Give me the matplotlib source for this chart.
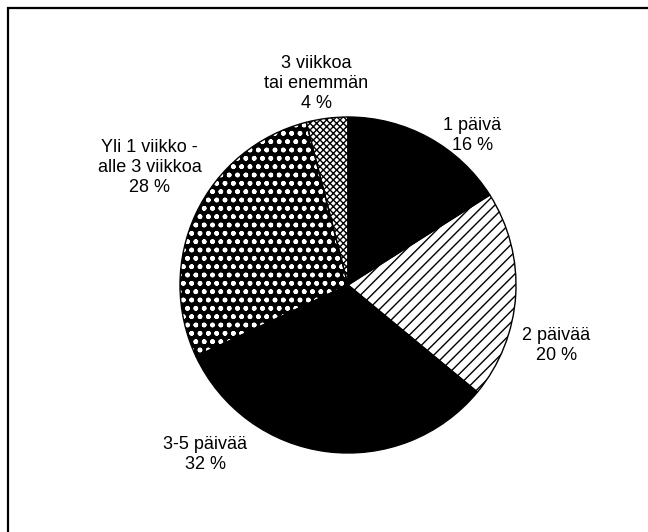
import matplotlib
matplotlib.use("Agg")
import matplotlib.pyplot as plt
from matplotlib.patches import Rectangle

plt.rcParams['font.family'] = ['Liberation Sans', 'DejaVu Sans']
plt.rcParams['hatch.linewidth'] = 1.0

# share of cases by duration
labels = ['1 päivä', '2 päivää', '3-5 päivää',
          'Yli 1 viikko -\nalle 3 viikkoa', '3 viikkoa\ntai enemmän']
values = [16, 20, 32, 28, 4]
# label positions in pie units (radius = 1)
label_pos = [(0.74, 0.89), (1.24, -0.36), (-0.85, -1.01),
             (-1.18, 0.70), (-0.19, 1.20)]

faces = ['black', 'white', 'black', 'black', 'white']
hatch_colors = ['black', 'black', 'black', 'white', 'black']
hatches = [None, '///', None, 'oo..', 'xxxxx']

fig = plt.figure(figsize=(6.48, 5.32), dpi=100)
r_px = 168
cx, cy = 348, 285
half = 1.5 * r_px
ax = fig.add_axes([(cx - half) / 648, (532 - cy - half) / 532,
                   2 * half / 648, 2 * half / 532])

wedges, _ = ax.pie(values, startangle=90, counterclock=False, radius=1)
for w, fc, hc, h in zip(wedges, faces, hatch_colors, hatches):
    w.set_facecolor(fc)
    w.set_edgecolor(hc)
    w.set_linewidth(0)
    if h:
        w.set_hatch(h)

# black outlines on top
outl, _ = ax.pie(values, startangle=90, counterclock=False, radius=1,
                 wedgeprops=dict(fill=False, edgecolor='black', linewidth=1.0))

for lab, v, (x, y) in zip(labels, values, label_pos):
    ax.text(x, y, f'{lab}\n{v} %', ha='center', va='center',
            fontsize=13, linespacing=1.2, color='black')

ax.set_xlim(-1.5, 1.5)
ax.set_ylim(-1.5, 1.5)
ax.set_aspect('equal')
ax.axis('off')

# page frame (right and bottom edges fall outside the scan)
fig.patches.append(Rectangle((7.5 / 648, -0.1), 1.2, 1 - 7.5 / 532 + 0.1,
                             transform=fig.transFigure, fill=False,
                             edgecolor='black', linewidth=1.6))

fig.savefig('out.png', dpi=100)
